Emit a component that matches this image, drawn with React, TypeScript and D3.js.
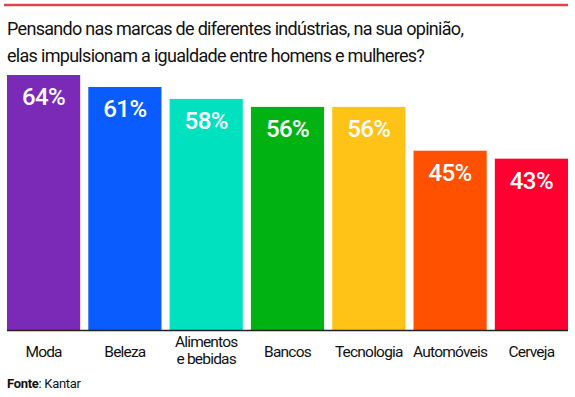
import React, { useEffect, useRef } from 'react';
import * as d3 from 'd3';

const categories = ['Moda', 'Beleza', 'Alimentos\ne bebidas', 'Bancos', 'Tecnologia', 'Automóveis', 'Cerveja'];
const values = [64, 61, 58, 56, 56, 45, 43];
const colors = ['#7b2ab8', '#0a5cff', '#00e2bf', '#00b312', '#ffc317', '#ff5100', '#ff0030'];
const titleLines = [
  'Pensando nas marcas de diferentes indústrias, na sua opinião,',
  'elas impulsionam a igualdade entre homens e mulheres?',
];

const FONT = 'Roboto, "Noto Sans", sans-serif';

const App = () => {
  const ref = useRef<SVGSVGElement | null>(null);

  useEffect(() => {
    const width = 575;
    const height = 397;
    const svg = d3.select(ref.current);
    svg.selectAll('*').remove();
    svg.attr('width', width).attr('height', height);

    // top red rule
    svg
      .append('line')
      .attr('x1', 4)
      .attr('x2', 568)
      .attr('y1', 5)
      .attr('y2', 5)
      .attr('stroke', '#e0434c')
      .attr('stroke-width', 2.5);

    svg
      .append('g')
      .attr('font-family', FONT)
      .attr('font-size', 18)
      .attr('letter-spacing', -0.7)
      .attr('fill', '#111')
      .selectAll('text')
      .data(titleLines)
      .enter()
      .append('text')
      .attr('x', 7)
      .attr('y', (_, i) => 35 + i * 27)
      .text((d) => d);

    const x = d3.scaleBand().domain(categories).range([7, 568]).paddingInner(0.1).paddingOuter(0);
    const y = d3.scaleLinear().domain([0, 64]).range([330, 75]);

    const bars = svg
      .append('g')
      .selectAll('g')
      .data(values)
      .enter()
      .append('g');

    bars
      .append('rect')
      .attr('x', (_, i) => x(categories[i]) as number)
      .attr('y', (d) => y(d))
      .attr('width', x.bandwidth())
      .attr('height', (d) => y(0) - y(d))
      .attr('fill', (_, i) => colors[i]);

    bars
      .append('text')
      .attr('x', (_, i) => (x(categories[i]) as number) + x.bandwidth() / 2)
      .attr('y', (d) => y(d) + 30)
      .attr('text-anchor', 'middle')
      .attr('font-family', FONT)
      .attr('font-size', 24)
      .attr('font-weight', 500)
      .attr('letter-spacing', -0.6)
      .attr('fill', '#fff')
      .text((d) => `${d}%`);

    svg
      .append('line')
      .attr('x1', 7)
      .attr('x2', 568)
      .attr('y1', y(0) + 0.5)
      .attr('y2', y(0) + 0.5)
      .attr('stroke', '#222')
      .attr('stroke-width', 1.5);

    const labels = svg
      .append('g')
      .attr('font-family', FONT)
      .attr('font-size', 15.5)
      .attr('letter-spacing', -0.8)
      .attr('fill', '#111')
      .attr('text-anchor', 'middle')
      .selectAll('text')
      .data(categories)
      .enter()
      .append('text')
      .attr('x', (d) => (x(d) as number) + x.bandwidth() / 2);

    labels.each(function (d) {
      const lines = d.split('\n');
      const base = lines.length > 1 ? 347 : 357;
      d3.select(this)
        .selectAll('tspan')
        .data(lines)
        .enter()
        .append('tspan')
        .attr('x', (x(d) as number) + x.bandwidth() / 2)
        .attr('y', (_, i) => base + i * 17)
        .text((t) => t);
    });

    const src = svg
      .append('text')
      .attr('x', 7)
      .attr('y', 388)
      .attr('font-family', FONT)
      .attr('font-size', 13)
      .attr('letter-spacing', -0.3)
      .attr('fill', '#111');
    src.append('tspan').attr('font-weight', 'bold').text('Fonte');
    src.append('tspan').text(': Kantar');
  }, []);

  return (
    <div style={{ position: 'absolute', left: 0, top: 0, background: '#fff' }}>
      <svg ref={ref} style={{ display: 'block' }} />
    </div>
  );
};

export default App;
